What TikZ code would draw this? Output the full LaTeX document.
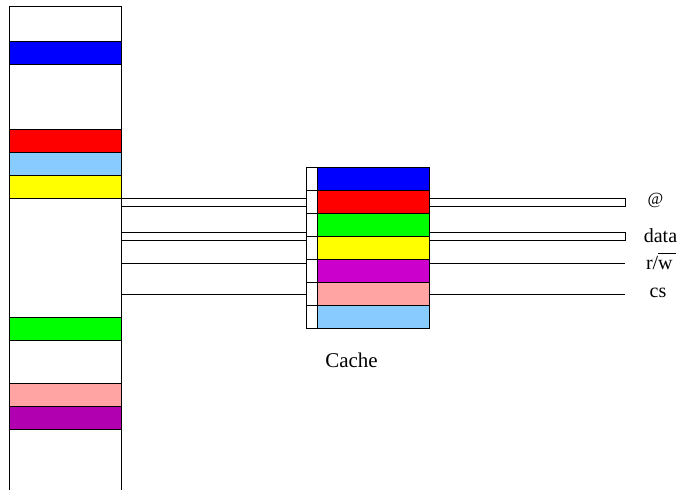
\documentclass[tikz,border=0pt]{standalone}
\usepackage{fontspec}
\setmainfont{Liberation Serif}
\definecolor{cblue}{HTML}{0000FF}
\definecolor{cred}{HTML}{FF0000}
\definecolor{csky}{HTML}{88CCFF}
\definecolor{cyellow}{HTML}{FFFF00}
\definecolor{cgreen}{HTML}{00FF00}
\definecolor{cpink}{HTML}{FFA3A3}
\definecolor{cplum}{HTML}{B000B0}
\definecolor{cmagenta}{HTML}{CC00CC}
\tikzset{
  wire/.style={line width=0.8pt, draw=black},
  memband/.style={draw=black, line width=0.8pt, inner sep=0pt, anchor=north west,
    minimum width=112pt, minimum height=23pt},
  cacheline/.style={draw=black, line width=0.8pt, inner sep=0pt, anchor=north west,
    minimum width=111.4pt, minimum height=23pt},
  tagcell/.style={draw=black, fill=white, line width=0.8pt, inner sep=0pt, anchor=north west,
    minimum width=11.6pt, minimum height=23pt},
  sig/.style={font=\fontsize{20}{22}\selectfont, inner sep=0pt},
}
\begin{document}
\begin{tikzpicture}[x=1pt, y=-1pt]
\useasboundingbox (0,0) rectangle (680,490);

% main memory: an open-bottomed column with its stored blocks
\coordinate (memTL) at (9,6);
\coordinate (memTR) at (121,6);
\coordinate (memBL) at (9,490);
\coordinate (memBR) at (121,490);
\draw[wire] (memBL) -- (memTL) -- (memTR) -- (memBR);
\node[memband, fill=cblue]   (mblue)   at (9,40.5)  {};
\node[memband, fill=cred]    (mred)    at (9,129)   {};
\node[memband, fill=csky]    (msky)    at (9,152)   {};
\node[memband, fill=cyellow] (myellow) at (9,175)   {};
\node[memband, fill=cgreen]  (mgreen)  at (9,317.3) {};
\node[memband, fill=cpink]   (mpink)   at (9,383)   {};
\node[memband, fill=cplum]   (mplum)   at (9,406)   {};

% cache: tag column and data lines
\foreach \i/\c in {0/cblue,1/cred,2/cgreen,3/cyellow,4/cmagenta,5/cpink,6/csky}{
  \node[tagcell] (tag\i) at (305.7,167.3+23*\i) {};
  \node[cacheline, fill=\c] (line\i) at (317.3,167.3+23*\i) {};
}
\node[sig, font=\fontsize{21}{23}\selectfont] (cachelabel) at (351.5,360) {Cache};

% bus endpoints
\coordinate (addrMemT) at (121,198.3);
\coordinate (addrMemB) at (121,206);
\coordinate (addrCacheLT) at (305.7,198.3);
\coordinate (addrCacheLB) at (305.7,206);
\coordinate (addrCacheRT) at (428.7,198.3);
\coordinate (addrCacheRB) at (428.7,206);
\coordinate (addrEndT) at (625,198.3);
\coordinate (addrEndB) at (625,206);

\coordinate (dataMemT) at (121,232.3);
\coordinate (dataMemB) at (121,240.3);
\coordinate (dataCacheLT) at (305.7,232.3);
\coordinate (dataCacheLB) at (305.7,240.3);
\coordinate (dataCacheRT) at (428.7,232.3);
\coordinate (dataCacheRB) at (428.7,240.3);
\coordinate (dataEndT) at (625,232.3);
\coordinate (dataEndB) at (625,240.3);

\coordinate (rwMem) at (121,263.7);
\coordinate (rwCacheL) at (305.7,263.7);
\coordinate (rwCacheR) at (428.7,263.7);
\coordinate (rwEnd) at (625,263.7);

\coordinate (csMem) at (121,294.3);
\coordinate (csCacheL) at (305.7,294.3);
\coordinate (csCacheR) at (428.7,294.3);
\coordinate (csEnd) at (625,294.3);

% address bus
\draw[wire] (addrMemT) -- (addrCacheLT);
\draw[wire] (addrMemB) -- (addrCacheLB);
\draw[wire] (addrCacheRT) -- (addrEndT) -- (addrEndB) -- (addrCacheRB);
% data bus
\draw[wire] (dataMemT) -- (dataCacheLT);
\draw[wire] (dataMemB) -- (dataCacheLB);
\draw[wire] (dataCacheRT) -- (dataEndT) -- (dataEndB) -- (dataCacheRB);
% control lines
\draw[wire] (rwMem) -- (rwCacheL);
\draw[wire] (rwCacheR) -- (rwEnd);
\draw[wire] (csMem) -- (csCacheL);
\draw[wire] (csCacheR) -- (csEnd);

% signal names
\node[inner sep=0pt, font=\fontsize{17}{19}\selectfont] (addrlabel) at (655.5,200) {@};
\node[sig] (datalabel) at (660.5,236) {data};
\node[sig, anchor=base] (rwlabel) at (661,269) {r/$\overline{\mbox{w\,}\vphantom{l}}$};
\node[sig] (cslabel) at (658,293) {cs};
\end{tikzpicture}
\end{document}
